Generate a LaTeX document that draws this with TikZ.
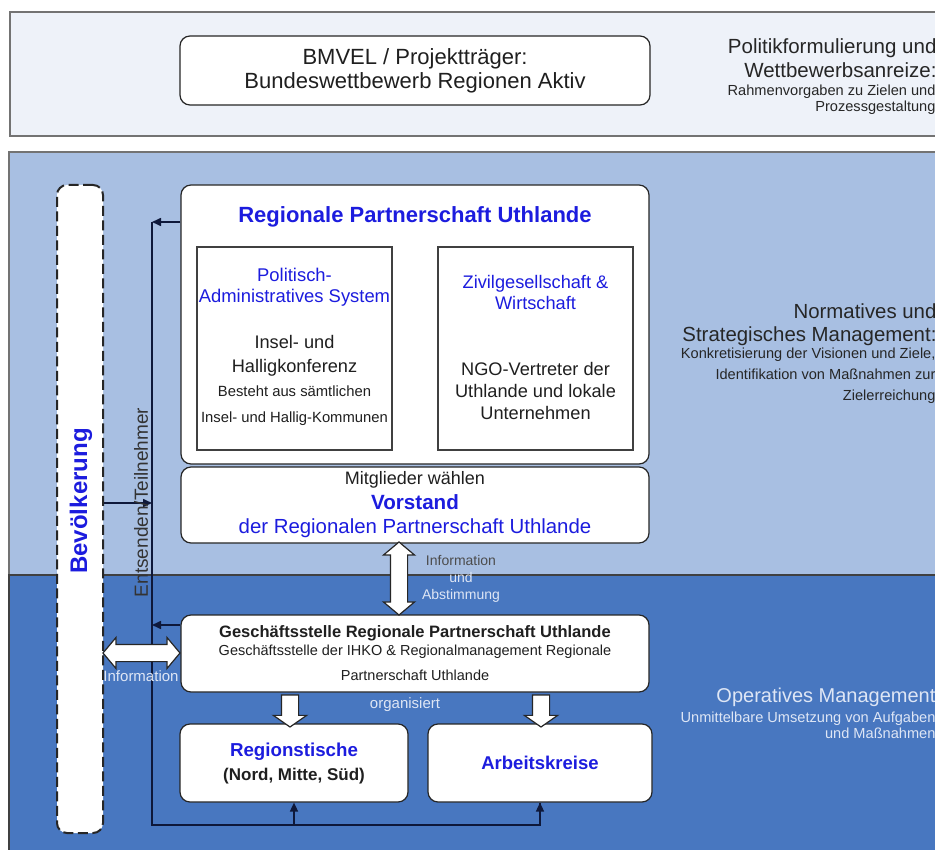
\documentclass[tikz,border=0pt]{standalone}
\usepackage{fontspec}
\setmainfont{Liberation Sans}
\usetikzlibrary{positioning,shapes.arrows,arrows.meta}
\definecolor{bandtop}{RGB}{238,242,249}
\definecolor{bandmid}{RGB}{168,191,226}
\definecolor{bandlow}{RGB}{72,119,192}
\definecolor{ublue}{RGB}{28,28,222}
\definecolor{pale}{RGB}{222,230,245}
\definecolor{navy}{RGB}{14,24,58}
\newcommand\sz[2]{\fontsize{#1}{#2}\selectfont}
\tikzset{
  band/.style={draw=black!55, line width=1.5pt},
  box/.style={draw=black!85, fill=white, rounded corners=10pt, line width=1.2pt, align=center, text=black!88},
  inbox/.style={draw=black!75, fill=white, line width=1.2pt},
  popbox/.style={draw=black!85, fill=white, dashed, dash pattern=on 10pt off 4.5pt, line width=2pt, rounded corners=10pt},
  lane/.style={anchor=east, align=right, text=black!85},
  flow/.style={draw=navy, line width=1.6pt},
  tip/.style={-{Triangle[length=9pt,width=8pt]}},
  dblarrow/.style={double arrow, draw=black!85, fill=white, line width=1.2pt, inner xsep=0pt, inner ysep=8pt, minimum width=0pt, double arrow head extend=7pt, double arrow tip angle=100},
  downarrow/.style={single arrow, draw=black!85, fill=white, line width=1.2pt, inner xsep=0pt, inner ysep=8pt, minimum width=0pt, single arrow head extend=8pt, single arrow tip angle=110, rotate=-90},
  note/.style={text=pale, align=center}
}
\begin{document}
\begin{tikzpicture}[x=1pt,y=-1pt]
  \useasboundingbox (0,0) rectangle (935,850);
  \fill[white] (0,0) rectangle (935,850);
  % bands
  \draw[band, fill=bandtop] (10,12) rectangle (960,136);
  \draw[band, fill=bandmid] (9,152) rectangle (960,575);
  \draw[band, draw=black!75, fill=bandlow] (9,575) rectangle (960,870);

  % top level
  \node[box, minimum width=470pt, minimum height=69pt, font=\sz{22}{24}] (bmvel) at (415,70.5)
    {BMVEL / Projektträger:\\Bundeswettbewerb Regionen Aktiv};
  \node[lane, font=\sz{20.5}{24}] (polhead) at (940,58) {Politikformulierung und\\Wettbewerbsanreize:};
  \node[lane, font=\sz{14.6}{16}] (polsub) at (939,100) {Rahmenvorgaben zu Zielen und\\Prozessgestaltung};

  % regionale partnerschaft
  \node[box, minimum width=468pt, minimum height=279pt] (rp) at (415,324.5) {};
  \node[text=ublue, font=\bfseries\sz{22}{24}] (rptitle) at (415,217) {Regionale Partnerschaft Uthlande};
  \node[inbox, minimum width=195pt, minimum height=203pt] (pas) at (294.5,348.5) {};
  \node[inbox, minimum width=195pt, minimum height=203pt] (ziv) at (535.5,348.5) {};
  \node[text=ublue, align=center, font=\sz{18.4}{21}] at (294.5,287.5) {Politisch-\\Administratives System};
  \node[align=center, text=black!88, font=\sz{18.2}{24}] at (294.5,356) {Insel- und\\Halligkonferenz};
  \node[align=center, text=black!88, font=\sz{14.8}{26}] at (294.5,406) {Besteht aus sämtlichen\\Insel- und Hallig-Kommunen};
  \node[text=ublue, align=center, font=\sz{18.2}{21}] at (535.5,292.5) {Zivilgesellschaft \&\\Wirtschaft};
  \node[align=center, text=black!88, font=\sz{18.2}{22}] at (535.5,391) {NGO-Vertreter der\\Uthlande und lokale\\Unternehmen};

  \node[box, minimum width=468pt, minimum height=76pt, font=\sz{18}{24.5}] (vor) at (415,505)
    {Mitglieder wählen\\{\color{ublue}\bfseries\sz{20.6}{24.5}Vorstand}\\{\color{ublue}\sz{20.4}{24.5}der Regionalen Partnerschaft Uthlande}};

  % operative level
  \node[box, minimum width=468pt, minimum height=77pt, font=\sz{14.5}{18}] (gs) at (415,653.5)
    {{\bfseries\sz{16.5}{18}Geschäftsstelle Regionale Partnerschaft Uthlande}\\Geschäftsstelle der IHKO \& Regionalmanagement Regionale\\[7pt]Partnerschaft Uthlande};
  \node[box, minimum width=228pt, minimum height=78pt, font=\bfseries\sz{17}{24}] (reg) at (294,763)
    {{\color{ublue}\sz{18.7}{24}Regionstische}\\(Nord, Mitte, Süd)};
  \node[box, minimum width=224pt, minimum height=78pt, font=\bfseries\sz{18.5}{24}, text=ublue] (ak) at (540,763)
    {Arbeitskreise};

  \node[lane, font=\sz{20.4}{23}] (normhead) at (940,324.5) {Normatives und\\Strategisches Management:};
  \node[lane, font=\sz{14.6}{21}] (normsub) at (939,376) {Konkretisierung der Visionen und Ziele,\\Identifikation von Maßnahmen zur\\Zielerreichung};
  \node[lane, text=pale, font=\sz{20}{23}] (ophead) at (939,697) {Operatives Management};
  \node[lane, text=pale, font=\sz{14.6}{16}] (opsub) at (939,725) {Unmittelbare Umsetzung von Aufgaben\\und Maßnahmen};

  % population
  \node[popbox, minimum width=46pt, minimum height=648pt] (bev) at (80,509) {};
  \node[rotate=90, text=ublue, font=\bfseries\sz{24}{26}] (bevtext) at (81,501) {Bevölkerung};

  % connectors
  \coordinate (bustop) at (152,222);
  \coordinate (busmid) at (152,503);
  \coordinate (busgs) at (152,625);
  \coordinate (busbot) at (152,825);
  \draw[flow] (bustop) -- (busbot) -| (ak.south);
  \draw[flow, tip] (rp.west |- bustop) -- (bustop);
  \draw[flow, tip] (bev.east |- busmid) -- (busmid);
  \draw[flow, tip] (gs.west |- busgs) -- (busgs);
  \draw[flow, tip] (busbot -| reg.south) -- (reg.south);
  \draw[flow, tip] (busbot -| ak.south) -- (ak.south);
  \node[rotate=90, text=black!80, font=\sz{19}{22}] (send) at (141,502.5) {Entsenden/Teilnehmer};

  % block arrows
  \node[dblarrow, rotate=90, minimum height=73pt] (vorgs) at (399,578.5) {};
  \node[dblarrow, minimum height=77pt] (bevgs) at (141.5,653) {};
  \node[downarrow, minimum height=32pt] (gsreg) at (290,708) {};
  \node[downarrow, minimum height=32pt] (gsak) at (541,708) {};
  \node[align=center, font=\sz{14}{17}] (info) at (461,579)
    {\color{black!70}Information\\\color{pale}und\\\color{pale}Abstimmung};
  \node[note, font=\sz{15}{18}] (infobev) at (141,676) {Information};
  \node[note, font=\sz{15}{18}] (org) at (405,705) {organisiert};
\end{tikzpicture}
\end{document}
